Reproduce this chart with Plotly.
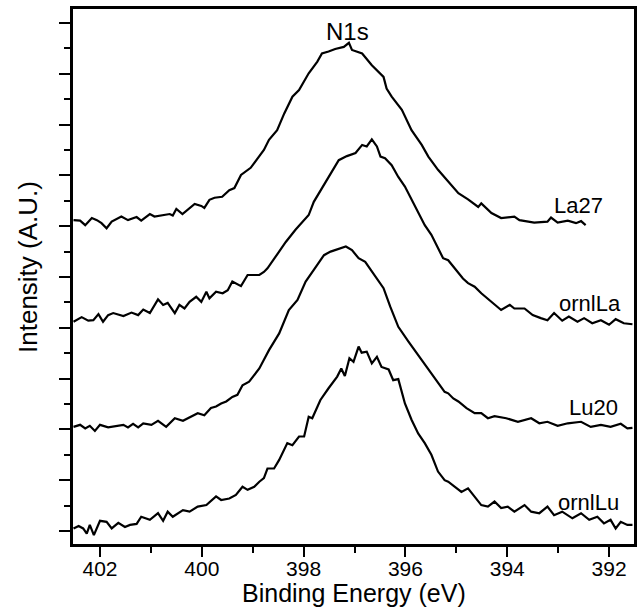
import plotly.graph_objects as go

# N1s XPS spectra, stacked. Intensities relative to each trace's own baseline (A.U.)
la27_be = [402.52, 402.39, 402.29, 402.16, 402.06, 401.97, 401.87, 401.77, 401.58, 401.45,
           401.28, 401.19, 401.02, 400.93, 400.63, 400.57, 400.50, 400.38, 400.14, 400.01,
           399.95, 399.85, 399.75, 399.60, 399.46, 399.36, 399.23, 399.04, 398.87, 398.78,
           398.68, 398.52, 398.38, 398.22, 398.09, 397.90, 397.73, 397.64, 397.51, 397.38,
           397.21, 397.11, 397.05, 396.95, 396.85, 396.66, 396.43, 396.37, 396.27, 396.07,
           395.88, 395.68, 395.55, 395.36, 395.16, 394.96, 394.77, 394.57, 394.51, 394.31,
           394.12, 393.86, 393.76, 393.47, 393.21, 393.14, 393.01, 392.81, 392.65, 392.55,
           392.46]
la27_int = [0.12, 0.11, 0.02, 0.16, 0.12, 0.06, -0.04, 0.09, 0.19, 0.12,
            0.18, 0.11, 0.24, 0.19, 0.24, 0.21, 0.34, 0.24, 0.44, 0.40,
            0.36, 0.52, 0.56, 0.58, 0.71, 0.75, 1.01, 1.15, 1.38, 1.50,
            1.70, 1.89, 2.22, 2.55, 2.68, 3.01, 3.24, 3.40, 3.44, 3.49,
            3.53, 3.61, 3.47, 3.44, 3.40, 3.17, 2.94, 2.71, 2.55, 2.29,
            1.89, 1.60, 1.37, 1.11, 0.88, 0.65, 0.53, 0.38, 0.45, 0.26,
            0.16, 0.19, 0.12, 0.07, 0.09, 0.17, 0.07, 0.11, 0.06, 0.10,
            0.02]

ornlla_be = [402.52, 402.36, 402.23, 402.13, 402.03, 401.94, 401.84, 401.74, 401.54, 401.38,
             401.25, 401.15, 401.02, 400.86, 400.76, 400.67, 400.53, 400.44, 400.34, 400.24,
             400.11, 400.01, 399.91, 399.85, 399.72, 399.59, 399.49, 399.40, 399.23, 399.10,
             398.97, 398.87, 398.78, 398.71, 398.55, 398.35, 398.16, 397.90, 397.80, 397.64,
             397.47, 397.31, 397.15, 396.98, 396.85, 396.76, 396.66, 396.56, 396.49, 396.40,
             396.27, 396.14, 396.01, 395.88, 395.75, 395.62, 395.49, 395.36, 395.26, 395.16,
             395.03, 394.87, 394.77, 394.64, 394.51, 394.31, 394.12, 393.95, 393.86, 393.66,
             393.50, 393.34, 393.21, 393.08, 392.92, 392.79, 392.62, 392.49, 392.33, 392.16,
             392.00, 391.87, 391.71, 391.54]
ornlla_int = [0.12, 0.21, 0.14, 0.15, 0.27, 0.12, 0.25, 0.29, 0.23, 0.30,
              0.25, 0.36, 0.29, 0.56, 0.45, 0.49, 0.29, 0.45, 0.38, 0.51,
              0.61, 0.51, 0.71, 0.58, 0.71, 0.68, 0.74, 0.91, 0.82, 1.04,
              1.04, 1.04, 1.10, 1.17, 1.40, 1.69, 1.93, 2.22, 2.48, 2.75,
              3.01, 3.30, 3.38, 3.44, 3.60, 3.57, 3.71, 3.57, 3.37, 3.34,
              3.20, 2.97, 2.78, 2.52, 2.25, 2.02, 1.83, 1.56, 1.37, 1.33,
              1.17, 0.97, 0.88, 0.81, 0.68, 0.51, 0.35, 0.45, 0.38, 0.38,
              0.25, 0.19, 0.15, 0.29, 0.14, 0.22, 0.12, 0.19, 0.09, 0.15,
              0.06, 0.17, 0.09, 0.07]

lu20_be = [402.52, 402.39, 402.29, 402.20, 402.10, 402.00, 401.84, 401.67, 401.54, 401.45,
           401.35, 401.25, 401.15, 400.99, 400.86, 400.70, 400.53, 400.37, 400.21, 400.08,
           399.95, 399.82, 399.72, 399.62, 399.52, 399.40, 399.30, 399.20, 399.07, 398.94,
           398.87, 398.78, 398.68, 398.48, 398.29, 398.12, 397.96, 397.80, 397.60, 397.47,
           397.31, 397.17, 397.05, 396.92, 396.79, 396.63, 396.43, 396.30, 396.14, 395.94,
           395.75, 395.55, 395.36, 395.23, 395.16, 395.06, 394.96, 394.80, 394.64, 394.51,
           394.38, 394.25, 394.02, 393.79, 393.53, 393.37, 393.21, 393.01, 392.81, 392.55,
           392.36, 392.16, 391.97, 391.77, 391.64, 391.54]
lu20_int = [0.05, 0.09, 0.02, 0.07, -0.03, 0.09, 0.04, 0.07, 0.09, 0.04,
            0.11, 0.04, 0.12, 0.09, 0.17, 0.05, 0.22, 0.17, 0.25, 0.32,
            0.28, 0.42, 0.45, 0.51, 0.55, 0.64, 0.68, 0.87, 0.94, 1.10,
            1.20, 1.37, 1.56, 1.89, 2.35, 2.55, 2.91, 3.14, 3.43, 3.50,
            3.55, 3.60, 3.53, 3.37, 3.30, 3.07, 2.78, 2.42, 2.02, 1.73,
            1.46, 1.17, 0.91, 0.74, 0.71, 0.61, 0.55, 0.42, 0.32, 0.32,
            0.22, 0.26, 0.22, 0.15, 0.22, 0.12, 0.15, 0.07, 0.12, 0.15,
            0.05, 0.09, 0.05, 0.11, 0.02, 0.03]

ornllu_be = [402.52, 402.42, 402.33, 402.26, 402.20, 402.12, 402.00, 401.87, 401.77, 401.64,
             401.51, 401.41, 401.28, 401.19, 401.02, 400.86, 400.76, 400.67, 400.57, 400.37,
             400.24, 400.08, 399.91, 399.72, 399.62, 399.46, 399.33, 399.20, 399.10, 398.97,
             398.87, 398.78, 398.71, 398.58, 398.48, 398.32, 398.22, 398.09, 397.99, 397.90,
             397.83, 397.67, 397.51, 397.34, 397.26, 397.19, 397.10, 397.02, 396.92, 396.86,
             396.76, 396.66, 396.56, 396.47, 396.33, 396.24, 396.14, 396.01, 395.88, 395.75,
             395.62, 395.49, 395.36, 395.23, 395.16, 395.03, 394.90, 394.77, 394.64, 394.51,
             394.38, 394.25, 394.12, 393.99, 393.86, 393.66, 393.53, 393.37, 393.21, 393.08,
             392.92, 392.72, 392.55, 392.39, 392.23, 392.10, 391.97, 391.87, 391.77, 391.64,
             391.54]
ornllu_int = [0.05, 0.10, 0.05, -0.05, 0.12, -0.08, 0.20, 0.18, 0.05, 0.16,
              0.08, 0.12, 0.14, 0.28, 0.22, 0.35, 0.20, 0.38, 0.28, 0.41,
              0.38, 0.48, 0.51, 0.68, 0.61, 0.64, 0.71, 0.87, 0.81, 0.87,
              0.97, 1.04, 1.23, 1.23, 1.40, 1.73, 1.69, 1.86, 1.86, 2.25,
              2.22, 2.58, 2.81, 3.04, 3.20, 3.05, 3.40, 3.33, 3.63, 3.51,
              3.53, 3.30, 3.43, 3.23, 3.18, 2.97, 2.99, 2.51, 2.19, 1.92,
              1.73, 1.50, 1.17, 1.00, 0.97, 0.87, 0.77, 0.84, 0.68, 0.51,
              0.48, 0.58, 0.45, 0.48, 0.38, 0.51, 0.38, 0.35, 0.48, 0.31,
              0.38, 0.25, 0.35, 0.22, 0.28, 0.15, 0.22, 0.05, 0.18, 0.12,
              0.12]

names = ["La27", "ornlLa", "Lu20", "ornlLu"]
offsets = [6, 4, 2, 0]
label_be = [392.07, 391.72, 391.78, 391.76]
label_y = [6.41, 4.47, 2.44, 0.56]

spectra = [(la27_be, la27_int), (ornlla_be, ornlla_int), (lu20_be, lu20_int), (ornllu_be, ornllu_int)]

font = "Arial, Liberation Sans, sans-serif"

fig = go.Figure()
for (be, inten), name, off in zip(spectra, names, offsets):
    fig.add_trace(go.Scatter(
        x=be, y=[v + off for v in inten], mode="lines", name=name,
        line=dict(color="black", width=2.2), showlegend=False,
    ))

for name, xb, yb in zip(names, label_be, label_y):
    fig.add_annotation(x=xb, y=yb, text=name, showarrow=False, xanchor="right", yanchor="middle",
                       font=dict(family=font, size=22, color="black"))

fig.add_annotation(x=397.14, y=9.84, text="N1s", showarrow=False, xanchor="center", yanchor="middle",
                   font=dict(family=font, size=24, color="black"))

fig.add_annotation(x=0.5, y=-0.091, xref="paper", yref="paper", text="Binding Energy (eV)",
                   showarrow=False, xanchor="center", yanchor="middle",
                   font=dict(family=font, size=25, color="black"))
fig.add_annotation(x=-0.08, y=0.518, xref="paper", yref="paper", text="Intensity (A.U.)",
                   showarrow=False, textangle=-90, xanchor="center", yanchor="middle",
                   font=dict(family=font, size=26, color="black"))

fig.update_xaxes(
    range=[402.53, 391.51], tick0=0, dtick=2, ticks="outside", ticklen=10, tickwidth=2,
    tickcolor="black", showline=True, linecolor="black", linewidth=2.5, mirror=True,
    showgrid=False, zeroline=False, tickfont=dict(family=font, size=21, color="black"),
    ticklabelstandoff=-6,
    minor=dict(ticks="outside", dtick=1, tick0=0, ticklen=6, tickwidth=2, tickcolor="black", showgrid=False),
)
fig.update_yaxes(
    range=[-0.256, 10.276], tick0=0, dtick=1, ticks="outside", ticklen=11, tickwidth=2,
    tickcolor="black", showline=True, linecolor="black", linewidth=2.5, mirror=True,
    showgrid=False, zeroline=False, showticklabels=False,
    minor=dict(ticks="outside", dtick=0.5, tick0=0, ticklen=6, tickwidth=2, tickcolor="black", showgrid=False),
)
fig.update_layout(
    width=641, height=610, margin=dict(l=73, r=4, t=9, b=66),
    plot_bgcolor="white", paper_bgcolor="white", font=dict(family=font, color="black"),
)

# drop the browser's default 8px body margin so the figure sits flush in the window
fig.write_html("out.html", config={"displayModeBar": False},
               post_script="document.body.style.margin='0px';")
